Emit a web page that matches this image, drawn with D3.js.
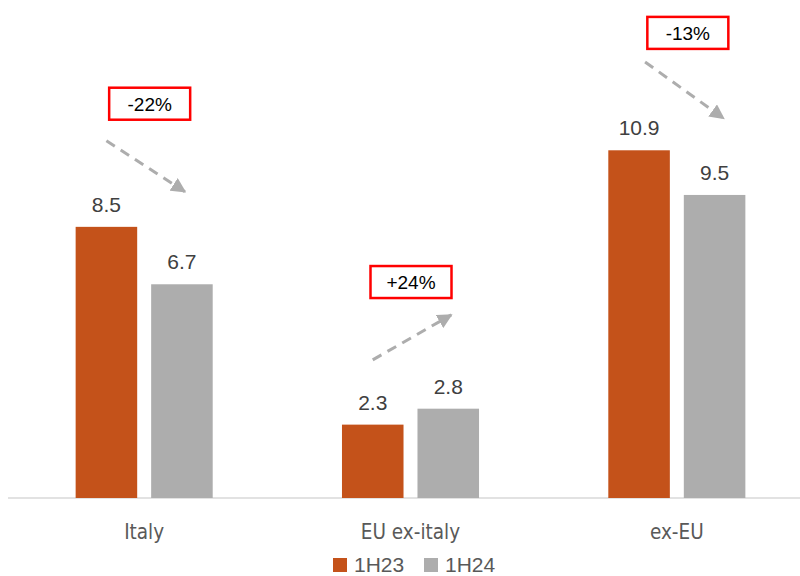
<!DOCTYPE html>
<html>
<head>
<meta charset="utf-8">
<script src="https://cdn.jsdelivr.net/npm/d3@7"></script>
<style>
  body { margin: 0; background: #fff; }
  svg { display: block; }
</style>
</head>
<body>
<svg id="chart"></svg>
<script>
const width = 800,
  height = 576;

// data
const categories = ["Italy", "EU ex-italy", "ex-EU"];
const seriesNames = ["1H23", "1H24"];
const values1H23 = [8.5, 2.3, 10.9];
const values1H24 = [6.7, 2.8, 9.5];
const changeLabels = ["-22%", "+24%", "-13%"];
// annotation levels in value units (box centre, arrow start/end)
const boxLevel = [12.36, 6.77, 14.58];
const arrowFrom = [11.2, 4.33, 13.67];
const arrowTo = [9.6, 5.74, 11.9];

const colors = { "1H23": "#C4521A", "1H24": "#ADADAD" };
const boxShift = [5.5, 0.5, 11];
const arrowShift = [0, 0, 6];
const baseY = 498;

const svg = d3
  .select("#chart")
  .attr("width", width)
  .attr("height", height);

const x0 = d3.scaleBand().domain(categories).range([11, 810]).padding(0);
const x1 = d3
  .scaleBand()
  .domain(seriesNames)
  .range([0, x0.bandwidth()])
  .paddingInner(0.185)
  .paddingOuter(0.856);
const y = d3.scaleLinear().domain([0, 15]).range([baseY, baseY - 15 * 31.9]);

const rows = categories.map((c, i) => ({
  cat: c,
  vals: [
    { key: "1H23", v: values1H23[i] },
    { key: "1H24", v: values1H24[i] }
  ]
}));

svg
  .append("defs")
  .append("marker")
  .attr("id", "arrow")
  .attr("viewBox", "0 0 10 10")
  .attr("refX", 9)
  .attr("refY", 5)
  .attr("markerWidth", 5)
  .attr("markerHeight", 5)
  .attr("markerUnits", "strokeWidth")
  .attr("orient", "auto")
  .append("path")
  .attr("d", "M0,0 L10,5 L0,10 Z")
  .attr("fill", "#ADADAD");

// axis baseline
svg
  .append("line")
  .attr("x1", 8)
  .attr("x2", 800)
  .attr("y1", baseY)
  .attr("y2", baseY)
  .style("stroke", "#D9D9D9")
  .style("stroke-width", 1.5);

const group = svg
  .selectAll("g.group")
  .data(rows)
  .enter()
  .append("g")
  .attr("class", "group")
  .attr("transform", d => `translate(${x0(d.cat)},0)`);

group
  .selectAll("rect")
  .data(d => d.vals)
  .enter()
  .append("rect")
  .attr("x", d => x1(d.key))
  .attr("width", x1.bandwidth())
  .attr("y", d => y(d.v))
  .attr("height", d => baseY - y(d.v))
  .style("fill", d => colors[d.key]);

group
  .selectAll("text.value")
  .data(d => d.vals)
  .enter()
  .append("text")
  .attr("class", "value")
  .attr("x", d => x1(d.key) + x1.bandwidth() / 2)
  .attr("y", d => y(d.v) - 15)
  .attr("text-anchor", "middle")
  .style("font-family", "'Liberation Sans', Arial, sans-serif")
  .style("font-size", "21px")
  .style("fill", "#404040")
  .text(d => d.v.toFixed(1));

// category labels
svg
  .selectAll("text.cat")
  .data(categories)
  .enter()
  .append("text")
  .attr("class", "cat")
  .attr("x", d => x0(d) + x0.bandwidth() / 2)
  .attr("y", 539)
  .attr("text-anchor", "middle")
  .style("font-family", "'Liberation Sans Narrow', 'DejaVu Sans Condensed', sans-serif")
  .style("font-size", "20.5px")
  .style("fill", "#595959")
  .text(d => d);

// change arrows and boxes
categories.forEach((c, i) => {
  const xa = x0(c) + x1("1H23") + x1.bandwidth() / 2 + arrowShift[i];
  const xb = x0(c) + x1("1H24") + x1.bandwidth() / 2 + 3 + arrowShift[i];
  svg
    .append("line")
    .attr("x1", xa)
    .attr("y1", y(arrowFrom[i]))
    .attr("x2", xb)
    .attr("y2", y(arrowTo[i]))
    .style("stroke", "#ADADAD")
    .style("stroke-width", 3)
    .style("stroke-dasharray", "10,7")
    .attr("marker-end", "url(#arrow)");

  const cx = x0(c) + x0.bandwidth() / 2 + boxShift[i];
  const cy = y(boxLevel[i]);
  svg
    .append("rect")
    .attr("x", cx - 40.5)
    .attr("y", cy - 16)
    .attr("width", 81)
    .attr("height", 32)
    .style("fill", "#fff")
    .style("stroke", "#FF0000")
    .style("stroke-width", 2.5);
  svg
    .append("text")
    .attr("x", cx)
    .attr("y", cy + 7)
    .attr("text-anchor", "middle")
    .style("font-family", "'Liberation Sans', Arial, sans-serif")
    .style("font-size", "19px")
    .style("fill", "#000")
    .text(changeLabels[i]);
});

// legend
const legend = svg
  .selectAll("g.legend")
  .data(seriesNames)
  .enter()
  .append("g")
  .attr("class", "legend")
  .attr("transform", (d, i) => `translate(${333 + i * 91},558)`);

legend
  .append("rect")
  .attr("width", 14)
  .attr("height", 14)
  .style("fill", d => colors[d]);

legend
  .append("text")
  .attr("x", 21)
  .attr("y", 14)
  .style("font-family", "'Liberation Sans', Arial, sans-serif")
  .style("font-size", "21px")
  .style("fill", "#595959")
  .text(d => d);
</script>
</body>
</html>
